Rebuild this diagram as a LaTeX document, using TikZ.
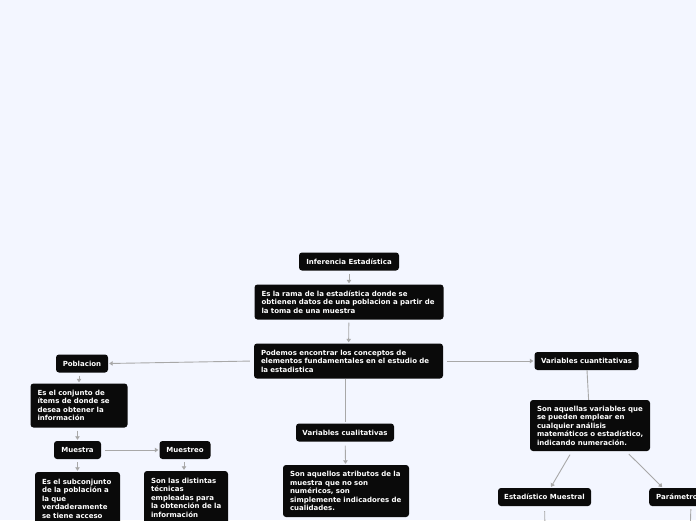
\documentclass[tikz,border=0pt]{standalone}
\usepackage{fontspec}
\setmainfont{DejaVu Sans}
\usetikzlibrary{arrows.meta}
\definecolor{bgc}{HTML}{F3F6FF}
\definecolor{boxc}{HTML}{0A0A0A}
\definecolor{linec}{HTML}{A8A8A8}
\newcommand{\myl}[1]{\mbox{#1}}
\tikzset{
  box/.style={fill=boxc, rounded corners=3pt, text=white, font=\bfseries\fontsize{7}{8.5}\selectfont, inner sep=0pt, minimum height=18pt},
  mbox/.style={box, align=left, inner xsep=7pt},
  conn/.style={draw=linec, line width=0.9pt},
  arr/.style={conn, -{Triangle[width=4.5pt,length=3.5pt]}},
}
\begin{document}
\begin{tikzpicture}[x=1pt,y=-1pt]
\clip (0,0) rectangle (696,520);
\fill[bgc] (0,0) rectangle (696,520);
% nodes
\node[box, minimum width=100pt] (inf) at (349,261.5) {Inferencia Estadística};
\node[mbox, text width=175pt, minimum height=35pt] (rama) at (349,302) {\myl{Es la rama de la estadística donde se}\\\myl{obtienen datos de una poblacion a partir de}\\\myl{la toma de una muestra}};
\node[mbox, text width=175pt, minimum height=35pt] (pod) at (348.5,361) {\myl{Podemos encontrar los conceptos de}\\\myl{elementos fundamentales en el estudio de}\\\myl{la estadistica}};
\node[box, minimum width=52pt] (pob) at (82,363.5) {Poblacion};
\node[mbox, text width=83pt, minimum height=44pt] (conj) at (79,405.5) {\myl{Es el conjunto de}\\\myl{ítems de donde se}\\\myl{desea obtener la}\\\myl{información}};
\node[box, minimum width=47pt] (mue) at (77.5,450) {Muestra};
\node[box, minimum width=51pt] (muo) at (185,450) {Muestreo};
\node[mbox, text width=71pt, minimum height=53pt] (sub) at (77.5,498.5) {\myl{Es el subconjunto}\\\myl{de la población a}\\\myl{la que}\\\myl{verdaderamente}\\\myl{se tiene acceso}};
\node[mbox, text width=70pt, minimum height=53pt] (dist) at (186,497.5) {\myl{Son las distintas}\\\myl{técnicas}\\\myl{empleadas para}\\\myl{la obtención de la}\\\myl{información}};
\node[box, minimum width=98pt] (cual) at (345,432.5) {Variables cualitativas};
\node[mbox, text width=112pt, minimum height=52pt] (atr) at (346,491) {\myl{Son aquellos atributos de la}\\\myl{muestra que no son}\\\myl{numéricos, son}\\\myl{simplemente indicadores de}\\\myl{cualidades.}};
\node[box, minimum width=104pt] (cuan) at (586.5,361) {Variables cuantitativas};
\node[mbox, text width=106pt, minimum height=51pt] (sav) at (590,425.5) {\myl{Son aquellas variables que}\\\myl{se pueden emplear en}\\\myl{cualquier análisis}\\\myl{matemáticos o estadístico,}\\\myl{indicando numeración.}};
\node[box, minimum width=93pt] (est) at (544.5,497) {Estadístico Muestral};
\node[box, anchor=west, inner xsep=7pt] (par) at (649,497) {Parámetro};
\coordinate (estc) at (545,535);
\coordinate (parc) at (690,535);
% connectors
\draw[arr, shorten <=3pt, shorten >=1pt] (inf) -- (rama);
\draw[arr, shorten <=3pt, shorten >=1pt] (rama) -- (pod);
\draw[arr, shorten <=4pt, shorten >=1pt] (pod.west) -- (pob.east);
\draw[arr, shorten <=4pt, shorten >=1pt] (pod.east) -- (cuan.west);
\draw[conn, shorten >=1pt] (pod.south -| cual.north) -- (cual.north);
\draw[arr, shorten <=4pt, shorten >=1pt] (cual) -- (atr);
\draw[arr, shorten <=3pt, shorten >=1pt] (pob.south -| conj.north) -- (conj.north);
\draw[arr, shorten <=3pt, shorten >=1pt] (conj.south -| mue.north) -- (mue.north);
\draw[arr, shorten <=4pt, shorten >=1pt] (mue) -- (muo);
\draw[arr, shorten <=3pt, shorten >=1pt] (mue) -- (sub);
\draw[arr, shorten <=3pt, shorten >=1pt] (muo.south -| 184,0) -- (dist.north -| 184,0);
\draw[conn] (cuan) -- (sav);
\draw[arr, shorten <=4pt, shorten >=1pt] ([xshift=-18pt]sav.south) -- ([xshift=6pt]est.north);
\draw[arr, shorten <=4pt, shorten >=1pt] ([xshift=36pt]sav.south) -- ([xshift=-14pt]par.north);
\draw[conn, shorten <=5pt] (est) -- (estc);
\draw[conn, shorten <=3pt] ([xshift=14pt]par.south) -- (parc);
\end{tikzpicture}
\end{document}
